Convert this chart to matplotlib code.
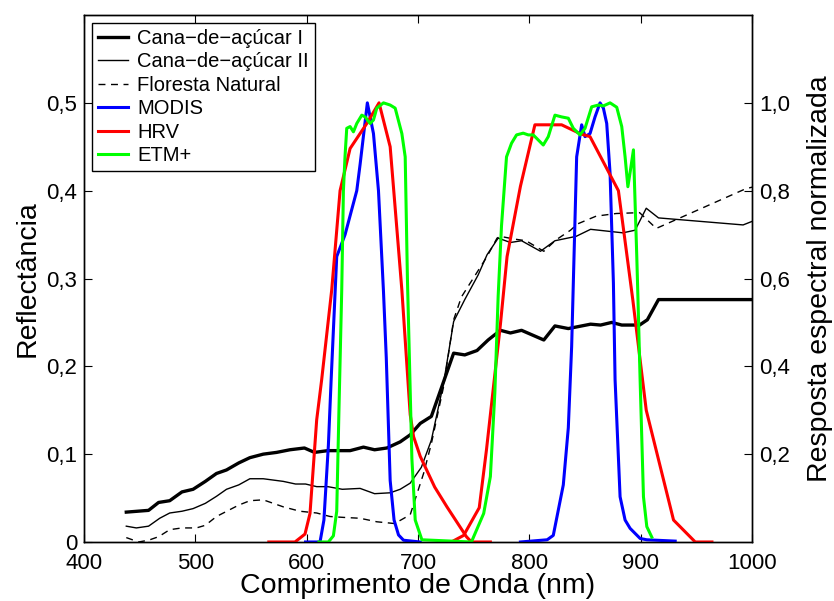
import matplotlib.pyplot as plt

plt.rcParams['font.family'] = ['Liberation Sans', 'DejaVu Sans']

# Reflectancia (eixo esquerdo)
cana1_nm = [438, 448, 458, 467, 477, 488, 498, 509, 519, 528, 539, 549, 561, 573, 585,
            598, 607, 619, 639, 651, 661, 672, 684, 693, 702, 712, 732, 742, 753, 763,
            774, 783, 793, 813, 823, 835, 855, 864, 874, 883, 899, 906, 916, 1000]
cana1 = [0.034, 0.035, 0.036, 0.045, 0.047, 0.057, 0.060, 0.069, 0.078, 0.082, 0.090,
         0.096, 0.100, 0.102, 0.105, 0.107, 0.102, 0.104, 0.104, 0.108, 0.105, 0.107,
         0.114, 0.122, 0.135, 0.143, 0.215, 0.213, 0.218, 0.230, 0.241, 0.238, 0.241,
         0.230, 0.246, 0.243, 0.248, 0.247, 0.250, 0.247, 0.247, 0.253, 0.276, 0.276]

cana2_nm = [438, 447, 458, 468, 477, 488, 498, 509, 519, 528, 539, 549, 561, 579, 590,
            599, 609, 619, 632, 648, 661, 675, 684, 693, 703, 712, 723, 732, 742, 754,
            762, 772, 783, 793, 810, 823, 842, 855, 884, 895, 905, 916, 992, 1000]
cana2 = [0.018, 0.016, 0.018, 0.027, 0.033, 0.035, 0.038, 0.044, 0.052, 0.060, 0.065,
         0.072, 0.072, 0.069, 0.066, 0.066, 0.063, 0.063, 0.060, 0.061, 0.055, 0.056,
         0.060, 0.067, 0.085, 0.116, 0.181, 0.251, 0.276, 0.304, 0.327, 0.346, 0.341,
         0.343, 0.331, 0.343, 0.348, 0.356, 0.352, 0.355, 0.380, 0.369, 0.361, 0.365]

floresta_nm = [438, 449, 458, 467, 477, 488, 501, 509, 519, 539, 549, 561, 579, 594,
               609, 621, 633, 648, 663, 679, 693, 705, 712, 723, 732, 739, 748, 762,
               771, 774, 786, 797, 813, 824, 837, 843, 860, 878, 899, 914, 994, 1000]
floresta = [0.005, 0.0, 0.002, 0.006, 0.014, 0.016, 0.016, 0.019, 0.029, 0.042, 0.047,
            0.048, 0.040, 0.035, 0.033, 0.029, 0.028, 0.027, 0.023, 0.021, 0.031, 0.078,
            0.112, 0.177, 0.253, 0.279, 0.297, 0.325, 0.346, 0.348, 0.345, 0.343, 0.331,
            0.344, 0.355, 0.362, 0.371, 0.374, 0.375, 0.357, 0.402, 0.404]

# Resposta espectral normalizada (eixo direito)
modis_red_nm = [599, 612, 615.5, 619.5, 622, 627, 634.5, 645, 648, 654.5, 660, 664.5,
                669, 671.5, 675, 678.5, 682.5, 687, 702]
modis_red = [0, 0, 0.05, 0.22, 0.37, 0.65, 0.70, 0.80, 0.86, 1.0, 0.93, 0.80, 0.57,
             0.42, 0.14, 0.05, 0.016, 0.004, 0]
modis_nir_nm = [792, 816, 821.5, 830.5, 835, 838, 839.5, 842.5, 847, 850, 854.5, 859,
                863.5, 866.5, 869.5, 872.5, 875.5, 877, 881.5, 886, 890.5, 899.5, 905.5, 931]
modis_nir = [0, 0.005, 0.015, 0.13, 0.26, 0.445, 0.59, 0.877, 0.95, 0.923, 0.93, 0.968,
             1.0, 0.988, 0.953, 0.84, 0.59, 0.37, 0.103, 0.05, 0.031, 0.008, 0.005, 0.002]

hrv_red_nm = [566, 589.5, 598.5, 603, 609, 613.5, 622.5, 630, 639, 654, 665, 675, 685.5,
              693, 696, 702, 715, 726, 743.5, 748, 765]
hrv_red = [0, 0, 0.018, 0.065, 0.278, 0.37, 0.574, 0.80, 0.896, 0.953, 1.0, 0.90, 0.574,
           0.29, 0.24, 0.195, 0.125, 0.08, 0.012, 0, 0]
hrv_nir_nm = [730, 741, 755, 761.5, 774, 780, 792, 805, 829, 845.5, 854.5, 880, 893,
              905, 929.5, 949, 964]
hrv_nir = [0, 0.015, 0.078, 0.21, 0.495, 0.65, 0.81, 0.95, 0.95, 0.93, 0.923, 0.80,
           0.55, 0.30, 0.05, 0, 0]

etm_nm = [611, 619.5, 624, 627, 629, 631.5, 633, 634.5, 636, 639, 642, 645, 649.5, 652.5,
          657, 660, 663, 669, 675, 679.5, 685.5, 688.5, 690.5, 694.5, 697.5, 703.5, 748,
          750, 759, 765, 769, 772, 775, 779.5, 784, 788.5, 794.5, 799, 803.5, 812.5, 817,
          823, 829, 835, 839.5, 845.5, 850, 856, 862, 866.5, 872.5, 878.5, 883, 886,
          888.5, 891, 893.5, 896.5, 897.5, 899.5, 902.5, 905.5, 910]
etm = [0, 0, 0.014, 0.07, 0.3, 0.574, 0.8, 0.88, 0.942, 0.946, 0.934, 0.953, 0.972,
       0.968, 0.953, 0.961, 0.988, 1.0, 0.995, 0.988, 0.93, 0.877, 0.6, 0.19, 0.05, 0.005,
       0.0, 0.012, 0.065, 0.149, 0.339, 0.56, 0.72, 0.877, 0.908, 0.927, 0.931, 0.927,
       0.927, 0.904, 0.923, 0.972, 0.968, 0.965, 0.942, 0.927, 0.942, 0.991, 0.995, 0.993,
       1.0, 0.99, 0.946, 0.877, 0.809, 0.85, 0.893, 0.65, 0.56, 0.369, 0.103, 0.035, 0.011]

xticks = [400, 500, 600, 700, 800, 900, 1000]
yticks_left = [0, 0.1, 0.2, 0.3, 0.4, 0.5]
yticks_right = [0.2, 0.4, 0.6, 0.8, 1.0]

fig = plt.figure(figsize=(8.34, 6.01), dpi=100)
ax = fig.add_axes([0.1007, 0.0982, 0.801, 0.8768])
ax2 = ax.twinx()

l1, = ax.plot(cana1_nm, cana1, color='black', lw=2.4, label='Cana−de−açúcar I')
l2, = ax.plot(cana2_nm, cana2, color='black', lw=1.0, label='Cana−de−açúcar II')
l3, = ax.plot(floresta_nm, floresta, color='black', lw=1.0, dashes=(5, 4),
              label='Floresta Natural')

l4, = ax2.plot(modis_red_nm, modis_red, color='#0000ff', lw=2.2, label='MODIS')
ax2.plot(modis_nir_nm, modis_nir, color='#0000ff', lw=2.2)
l5, = ax2.plot(hrv_red_nm, hrv_red, color='#ff0000', lw=2.2, label='HRV')
ax2.plot(hrv_nir_nm, hrv_nir, color='#ff0000', lw=2.2)
l6, = ax2.plot(etm_nm, etm, color='#00ff00', lw=2.2, label='ETM+')

ax.set_xlim(400, 1000)
ax.set_ylim(0, 0.6)
ax2.set_ylim(0, 1.2)

ax.set_xticks(xticks)
ax.set_xticklabels([str(t) for t in xticks])
ax.set_yticks(yticks_left)
ax.set_yticklabels(['0'] + [f'{t:.1f}'.replace('.', ',') for t in yticks_left[1:]])
ax2.set_yticks(yticks_right)
ax2.set_yticklabels([f'{t:.1f}'.replace('.', ',') for t in yticks_right])

ax.tick_params(axis='x', direction='in', top=True, length=6, width=0.8,
               labelsize=16, pad=8)
ax.tick_params(axis='y', direction='in', length=6, width=0.8, labelsize=16, pad=5)
ax2.tick_params(axis='y', direction='in', length=6, width=0.8, labelsize=16, pad=5)

for a in (ax, ax2):
    for s in a.spines.values():
        s.set_linewidth(1.0)

ax.set_xlabel('Comprimento de Onda (nm)', fontsize=20.5, labelpad=-1)
ax.set_ylabel('Reflectância', fontsize=20.5, labelpad=4)
ax2.set_ylabel('Resposta espectral normalizada', fontsize=20.5, labelpad=12)

leg = ax2.legend(handles=[l1, l2, l3, l4, l5, l6], loc='upper left',
                 bbox_to_anchor=(0.0115, 0.985), fontsize=14.5, frameon=True,
                 fancybox=False, edgecolor='black', framealpha=1,
                 handlelength=1.5, handletextpad=0.45, labelspacing=0.22,
                 borderpad=0.3, borderaxespad=0)
leg.get_frame().set_linewidth(1.0)

fig.savefig('out.png', dpi=100)
